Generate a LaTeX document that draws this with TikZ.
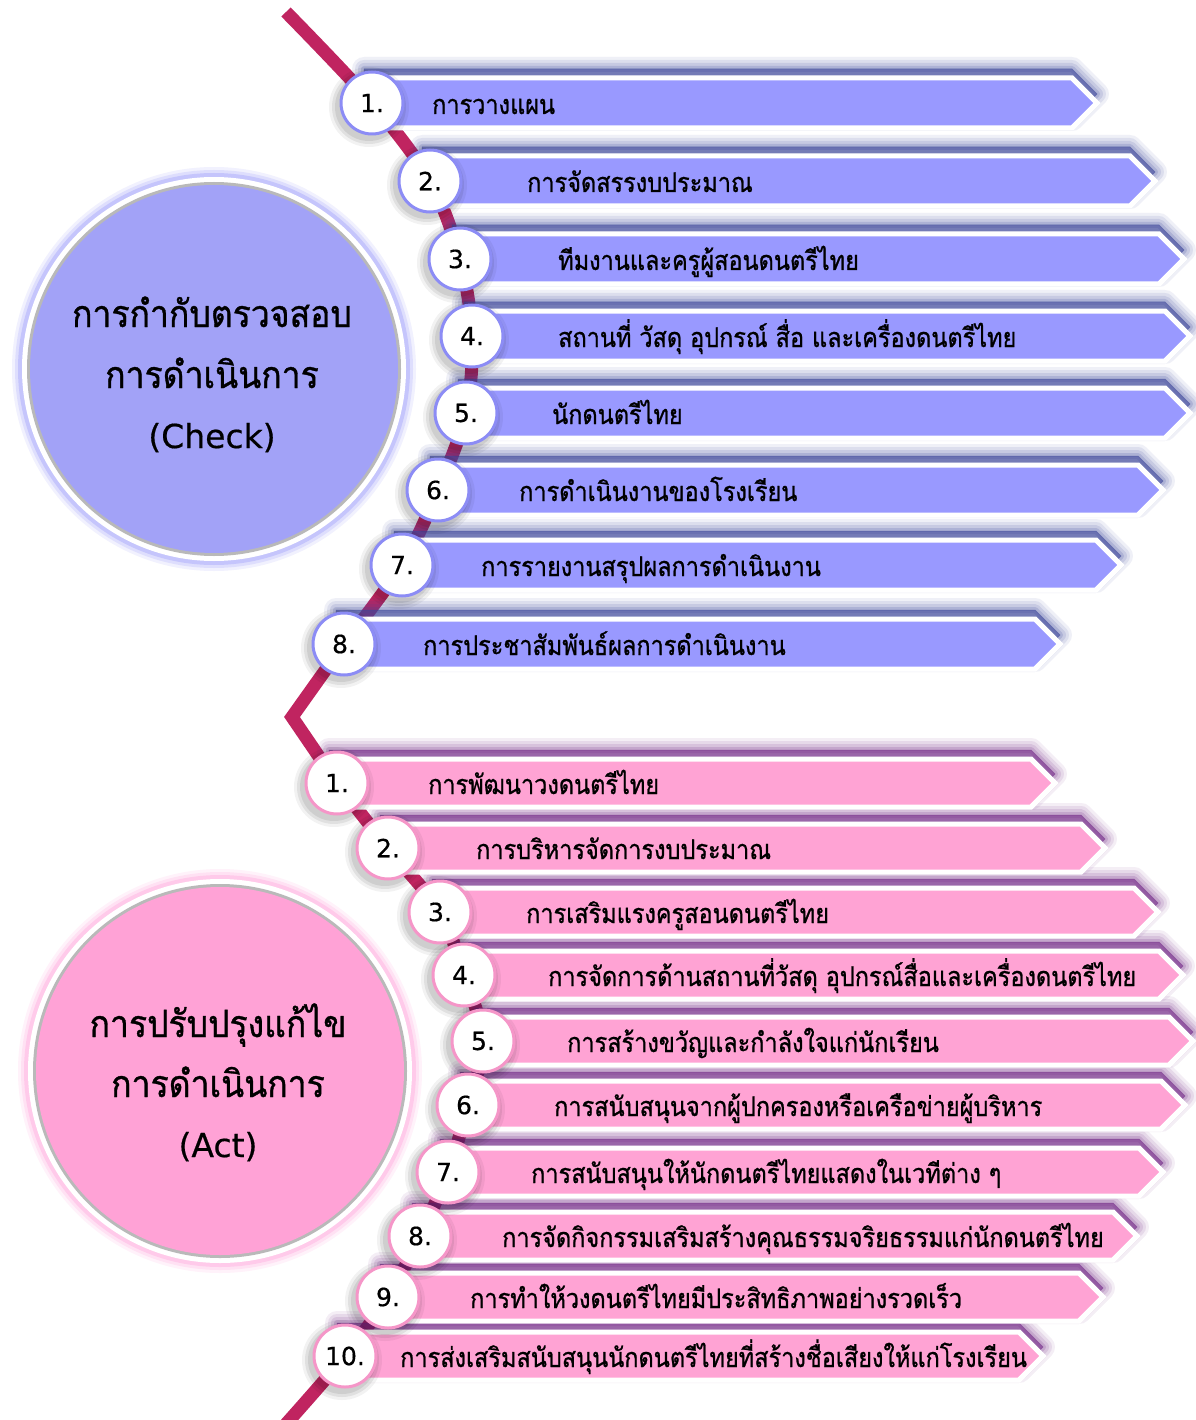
\documentclass[tikz,border=0pt]{standalone}
\usepackage{fontspec}
\newfontfamily\thai[Script=Thai, FakeBold=0.9, FakeStretch=0.87]{Loma}
\newfontfamily\thaibig[Script=Thai, FakeBold=0.9, FakeStretch=0.9]{Loma}
\newfontfamily\latin[FakeBold=0.5]{DejaVu Sans}
\usetikzlibrary{calc}
\pgfdeclarelayer{bglayer}
\pgfdeclarelayer{spinelayer}
\pgfdeclarelayer{shadowlayer}
\pgfdeclarelayer{barlayer}
\pgfsetlayers{bglayer,spinelayer,shadowlayer,barlayer,main}

\definecolor{chkbar}{RGB}{153,153,255}
\definecolor{chkshadow}{RGB}{60,70,155}
\definecolor{chkborder}{RGB}{140,140,245}
\definecolor{chkcirc}{RGB}{162,162,247}
\definecolor{chkglow}{RGB}{140,140,250}
\definecolor{actbar}{RGB}{255,163,212}
\definecolor{actshadow}{RGB}{115,40,135}
\definecolor{actborder}{RGB}{245,150,200}
\definecolor{actcirc}{RGB}{255,162,214}
\definecolor{actglow}{RGB}{255,150,215}
\definecolor{spinec}{RGB}{192,36,96}

\tikzset{
  numcirc/.style={circle, fill=white, draw=#1, line width=3pt, minimum size=62pt,
    inner sep=0pt, font=\latin\fontsize{25}{25}\selectfont},
  bartext/.style={anchor=base west, inner sep=0pt, font=\thai\fontsize{27}{27}\selectfont},
  bigtext/.style={anchor=base, inner sep=0pt, font=\thaibig\fontsize{37.5}{37.5}\selectfont},
  biglatin/.style={anchor=base, inner sep=0pt, font=\latin\fontsize{33}{33}\selectfont},
}

% #1 kind, #2 name, #3 number, #4 cx, #5 cy, #6 tipx, #7 textx, #8 text, #9 half height
\newcommand\baritem[9]{%
  \coordinate (#2-c) at (#4,#5);
  \begin{pgfonlayer}{shadowlayer}
    \foreach \w/\o in {24/0.08, 18/0.1, 12/0.13, 6/0.18, 1/0.3} {
      \draw[#1shadow, line width=\w pt, opacity=\o, fill=#1shadow, fill opacity=\o, line join=round]
        (#4-8,#5-9-#9) -- (#6-#9,#5-9-#9) -- (#6,#5-9) -- (#6-#9,#5-9+#9) -- (#4-8,#5-9+#9) -- cycle;
    }
  \end{pgfonlayer}
  \begin{pgfonlayer}{barlayer}
    \draw[white, line width=5pt, fill=#1bar, line join=miter]
      (#4-10,#5-#9) -- (#6-#9,#5-#9) -- (#6,#5) -- (#6-#9,#5+#9) -- (#4-10,#5+#9) -- cycle;
  \end{pgfonlayer}
  \foreach \s/\o in {8/0.05, 5/0.07, 2/0.08} {
    \fill[black, opacity=\o] ($(#2-c)+(-3,4)$) circle (32+\s);
  }
  \node[numcirc=#1border] (#2) at (#2-c) {#3.};
  \node[bartext] (#2-t) at (#7,#5+11) {#8};
}

\begin{document}
\begin{tikzpicture}[x=1pt, y=-1pt]
\useasboundingbox (0,0) rectangle (1195,1420);
\begin{pgfonlayer}{bglayer}
  \fill[white] (0,0) rectangle (1195,1420);
\end{pgfonlayer}

% ---------- Check ----------
\baritem{chk}{c1}{1}{372}{103}{1097}{432}{การวางแผน}{25}
\baritem{chk}{c2}{2}{430}{181}{1155}{527}{การจัดสรรงบประมาณ}{25}
\baritem{chk}{c3}{3}{460}{259}{1184}{558}{ทีมงานและครูผู้สอนดนตรีไทย}{25}
\baritem{chk}{c4}{4}{472}{336}{1190}{558}{สถานที่ วัสดุ อุปกรณ์ สื่อ และเครื่องดนตรีไทย}{25}
\baritem{chk}{c5}{5}{466}{413}{1190}{552}{นักดนตรีไทย}{25}
\baritem{chk}{c6}{6}{438}{490}{1163}{519}{การดำเนินงานของโรงเรียน}{25}
\baritem{chk}{c7}{7}{402}{565}{1121}{481}{การรายงานสรุปผลการดำเนินงาน}{25}
\baritem{chk}{c8}{8}{344}{644}{1060}{423}{การประชาสัมพันธ์ผลการดำเนินงาน}{25}

% ---------- Act ----------
\baritem{act}{a1}{1}{337}{783}{1055}{428}{การพัฒนาวงดนตรีไทย}{24}
\baritem{act}{a2}{2}{388}{848}{1105}{476}{การบริหารจัดการงบประมาณ}{24}
\baritem{act}{a3}{3}{440}{912}{1158}{526}{การเสริมแรงครูสอนดนตรีไทย}{24}
\baritem{act}{a4}{4}{464}{975}{1183}{548}{การจัดการด้านสถานที่วัสดุ อุปกรณ์สื่อและเครื่องดนตรีไทย}{24}
\baritem{act}{a5}{5}{483}{1041}{1193}{567}{การสร้างขวัญและกำลังใจแก่นักเรียน}{24}
\baritem{act}{a6}{6}{468}{1105}{1185}{554}{การสนับสนุนจากผู้ปกครองหรือเครือข่ายผู้บริหาร}{24}
\baritem{act}{a7}{7}{448}{1172}{1163}{531}{การสนับสนุนให้นักดนตรีไทยแสดงในเวทีต่าง ๆ}{24}
\baritem{act}{a8}{8}{420}{1236}{1137}{502}{การจัดกิจกรรมเสริมสร้างคุณธรรมจริยธรรมแก่นักดนตรีไทย}{24}
\baritem{act}{a9}{9}{388}{1297}{1103}{470}{การทำให้วงดนตรีไทยมีประสิทธิภาพอย่างรวดเร็ว}{24}
\baritem{act}{a10}{10}{345}{1356}{1043}{400}{การส่งเสริมสนับสนุนนักดนตรีไทยที่สร้างชื่อเสียงให้แก่โรงเรียน}{24}

% ---------- spine ----------
\coordinate (sTop) at (286,12);
\coordinate (sV) at (292,717);
\coordinate (sBot) at (286,1424);
\begin{pgfonlayer}{spinelayer}
  \draw[spinec, line width=13pt, line join=miter]
    plot[smooth, tension=0.55] coordinates {(sTop) (c1-c) (c2-c) (c3-c) (c4-c) (c5-c) (c6-c) (c7-c) (c8-c)}
    -- (sV) --
    plot[smooth, tension=0.55] coordinates {(a1-c) (a2-c) (a3-c) (a4-c) (a5-c) (a6-c) (a7-c) (a8-c) (a9-c) (a10-c) (sBot)};
\end{pgfonlayer}

% ---------- big circles ----------
\coordinate (chkC) at (214,369);
\foreach \r/\o in {202/0.12, 199/0.18, 196/0.3} { \fill[chkglow, opacity=\o] (chkC) circle (\r); }
\fill[white] (chkC) circle (192);
\fill[gray!55] (chkC) circle (187);
\node[circle, fill=chkcirc, minimum size=368pt, inner sep=0pt] (check) at (chkC) {};
\node[bigtext] (check-l1) at (212,327) {การกำกับตรวจสอบ};
\node[bigtext] (check-l2) at (212,388) {การดำเนินการ};
\node[biglatin] (check-l3) at (212,448) {(Check)};

\coordinate (actC) at (220,1071);
\foreach \r/\o in {202/0.12, 199/0.18, 196/0.3} { \fill[actglow, opacity=\o] (actC) circle (\r); }
\fill[white] (actC) circle (192);
\fill[gray!55] (actC) circle (187);
\node[circle, fill=actcirc, minimum size=368pt, inner sep=0pt] (act) at (actC) {};
\node[bigtext] (act-l1) at (218,1037) {การปรับปรุงแก้ไข};
\node[bigtext] (act-l2) at (218,1097) {การดำเนินการ};
\node[biglatin] (act-l3) at (218,1157) {(Act)};

\end{tikzpicture}
\end{document}
